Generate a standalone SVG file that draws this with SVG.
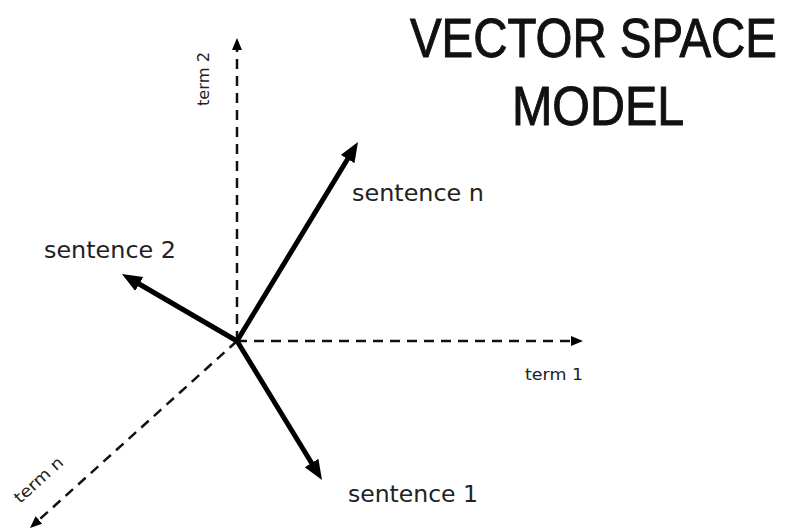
<svg xmlns="http://www.w3.org/2000/svg" width="787" height="531" viewBox="0 0 787 531">
<defs>
<style>
.axis{stroke:#111;stroke-width:2.5;stroke-dasharray:10 7;fill:none}
.vec{stroke:#000;stroke-width:5;fill:none}
.lbl{font-family:"DejaVu Sans","Liberation Sans",sans-serif;fill:#222}
.title{font-family:"Liberation Sans","DejaVu Sans",sans-serif;fill:#111;stroke:#111;stroke-width:1;font-size:55px}
</style>
<marker id="headBig" markerUnits="userSpaceOnUse" markerWidth="21" markerHeight="17" refX="10" refY="8" orient="auto" viewBox="0 0 21 17">
<path d="M0,0 L20,8 L0,16 z" fill="#000"/>
</marker>
<marker id="headSmall" markerUnits="userSpaceOnUse" markerWidth="13" markerHeight="11" refX="8" refY="5" orient="auto" viewBox="0 0 13 11">
<path d="M0,0 L12,5 L0,10 z" fill="#000"/>
</marker>
</defs>
<rect width="787" height="531" fill="#fff"/>
<g id="title">
<text class="title" transform="translate(410,57) scale(0.862,1)">VECTOR SPACE</text>
<text class="title" transform="translate(512,125) scale(0.88,1)">MODEL</text>
</g>
<g id="connectors">
<line class="axis" x1="237" y1="341" x2="237" y2="42" marker-end="url(#headSmall)"/>
<line class="axis" x1="237" y1="341" x2="579" y2="341" marker-end="url(#headSmall)"/>
<line class="axis" x1="237" y1="341" x2="33" y2="525.3" marker-end="url(#headSmall)"/>
<line class="vec" x1="237" y1="341" x2="352.8" y2="150.5" marker-end="url(#headBig)"/>
<line class="vec" x1="237" y1="341" x2="130.6" y2="279" marker-end="url(#headBig)"/>
<line class="vec" x1="237" y1="341" x2="316.8" y2="471.5" marker-end="url(#headBig)"/>
</g>
<g id="term2"><text class="lbl" font-size="16" transform="translate(209,106) rotate(-90)" textLength="54" lengthAdjust="spacingAndGlyphs">term 2</text></g>
<g id="term1"><text class="lbl" font-size="16" x="525" y="380" textLength="58" lengthAdjust="spacingAndGlyphs">term 1</text></g>
<g id="termn"><text class="lbl" font-size="16" transform="translate(20,504) rotate(-42)" textLength="60" lengthAdjust="spacingAndGlyphs">term n</text></g>
<g id="sentence-n"><text class="lbl" font-size="23" x="352" y="201" textLength="132" lengthAdjust="spacingAndGlyphs">sentence n</text></g>
<g id="sentence-2"><text class="lbl" font-size="23" x="44" y="258" textLength="132" lengthAdjust="spacingAndGlyphs">sentence 2</text></g>
<g id="sentence-1"><text class="lbl" font-size="23" x="348" y="502" textLength="130" lengthAdjust="spacingAndGlyphs">sentence 1</text></g>
</svg>
